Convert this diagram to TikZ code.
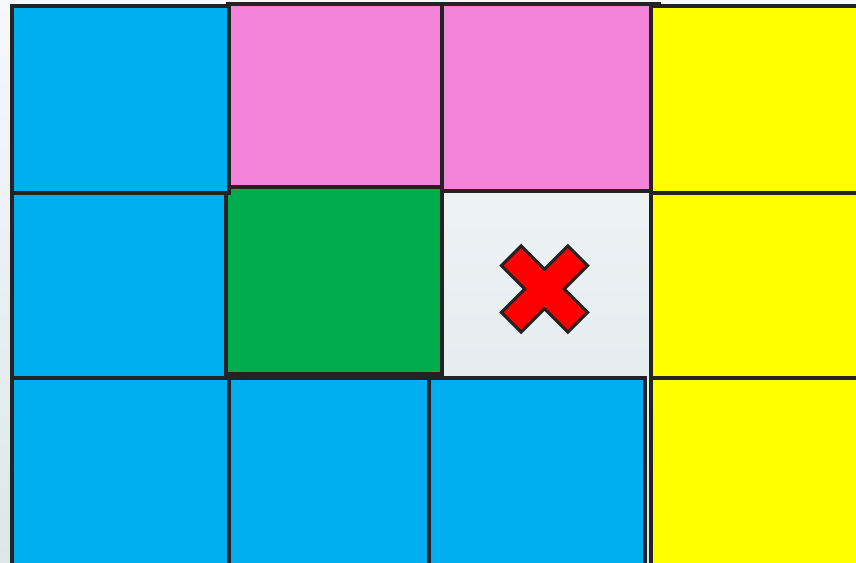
\documentclass[tikz,border=0pt]{standalone}
\usepackage{tikz}

\definecolor{tileblue}{HTML}{00AEEF}
\definecolor{tilepink}{HTML}{F184D9}
\definecolor{tilegreen}{HTML}{00AC4E}
\definecolor{tileyellow}{HTML}{FFFF00}
\definecolor{crossred}{HTML}{FF0000}
\definecolor{edgegray}{HTML}{232323}
\definecolor{bgtop}{HTML}{F6F8FA}
\definecolor{bgbot}{HTML}{DCE7EA}

\begin{document}
\begin{tikzpicture}[x=0.03cm, y=-0.03cm,
    tile/.style={draw=edgegray, line width=3pt},
    mark_x/.style={draw=edgegray, line width=2.6pt, fill=crossred, line join=miter},
    ]
    \useasboundingbox (0,0) rectangle (856,563);
    \clip (0,0) rectangle (856,563);
    \shade[top color=bgtop, bottom color=bgbot] (0,0) rectangle (856,563);

    % Tiles
    \draw[tile, fill=tilepink] (228,4) rectangle (442,187);
    \draw[tile, fill=tilepink] (442,4) rectangle (659,191);
    \draw[tile, fill=tilegreen] (226,187) rectangle (442,374);
    \draw[tile, fill=tileblue] (12,193) rectangle (226,378);
    \draw[tile, fill=tileblue] (12,6) rectangle (229,193);
    \draw[tile, fill=tileyellow] (651,6) rectangle (880,193);
    \draw[tile, fill=tileyellow] (651,193) rectangle (880,378);
    \draw[tile, fill=tileyellow] (651,378) rectangle (880,590);
    \draw[tile, fill=tileblue] (12,378) rectangle (229,590);
    \draw[tile, fill=tileblue] (229,378) rectangle (429,590);
    \draw[tile, fill=tileblue] (429,378) rectangle (645,590);

    % Cross
    \draw[mark_x, shift={(544.5,289)}, rotate=45]
        (-14,47) -- (14,47) -- (14,14) -- (47,14) -- (47,-14) -- (14,-14)
        -- (14,-47) -- (-14,-47) -- (-14,-14) -- (-47,-14) -- (-47,14)
        -- (-14,14) -- cycle;
\end{tikzpicture}
\end{document}
